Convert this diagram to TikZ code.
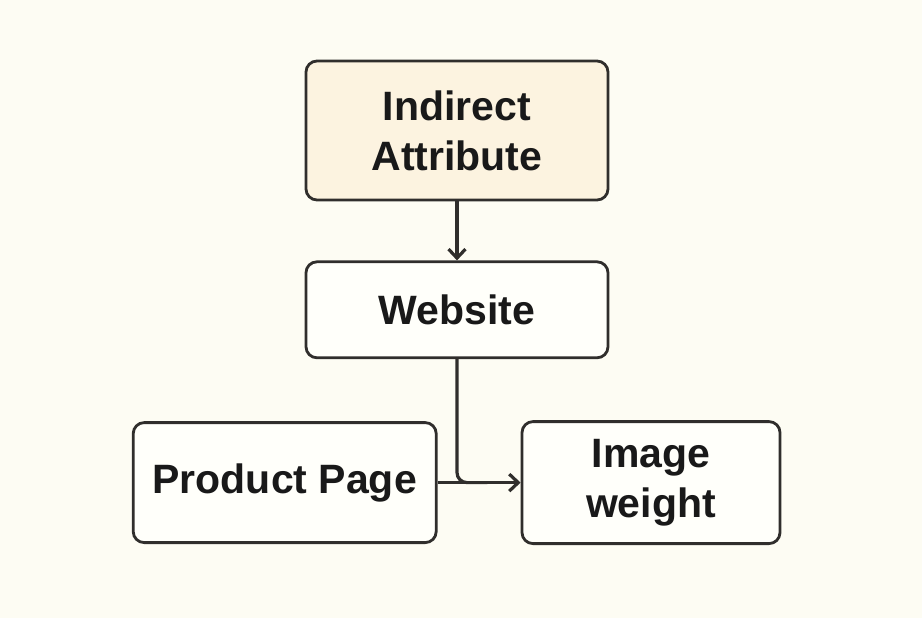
\documentclass[tikz,border=0pt]{standalone}
\usepackage{fontspec}
\setmainfont{Liberation Sans}
\usetikzlibrary{positioning,arrows.meta,calc}
\definecolor{bgcream}{RGB}{253,252,243}
\definecolor{boxfill}{RGB}{255,255,250}
\definecolor{topfill}{RGB}{252,243,224}
\definecolor{linegray}{RGB}{48,46,44}

\begin{document}
\begin{tikzpicture}[x=1pt, y=-1pt,
			box/.style={rectangle, rounded corners=11pt, draw=linegray, line width=2.8pt, fill=boxfill,
				align=center, font=\fontsize{41}{50}\selectfont\bfseries, text=black!90, inner sep=0pt},
			wire/.style={draw=linegray, line width=3.2pt},
			link/.style={wire, -{Straight Barb[length=9pt,width=17pt,line width=3.2pt]}}]
			\fill[bgcream] (0,0) rectangle (922,618);
			\useasboundingbox (0,0) rectangle (922,618);
			\node[box, fill=topfill, minimum width=302pt, minimum height=139pt] (indirect) at (457,130.5) {Indirect\\Attribute};
			\node[box, minimum width=302pt, minimum height=96pt] (website) [below=59pt of indirect] {Website};
			\node[box, minimum width=303pt, minimum height=120pt] (product) [below left=62pt and -133pt of website] {Product Page};
			\node[box, minimum width=258pt, minimum height=122pt] (image) [right=83pt of product] {Image\\weight};
			\draw[link] (indirect.south) -- (website.north);
			\draw[wire, rounded corners=10pt] (website.south) |- ($(product.east)!.6!(image.west)$);
			\draw[link] (product.east) -- (image.west);
		\end{tikzpicture}
\end{document}
